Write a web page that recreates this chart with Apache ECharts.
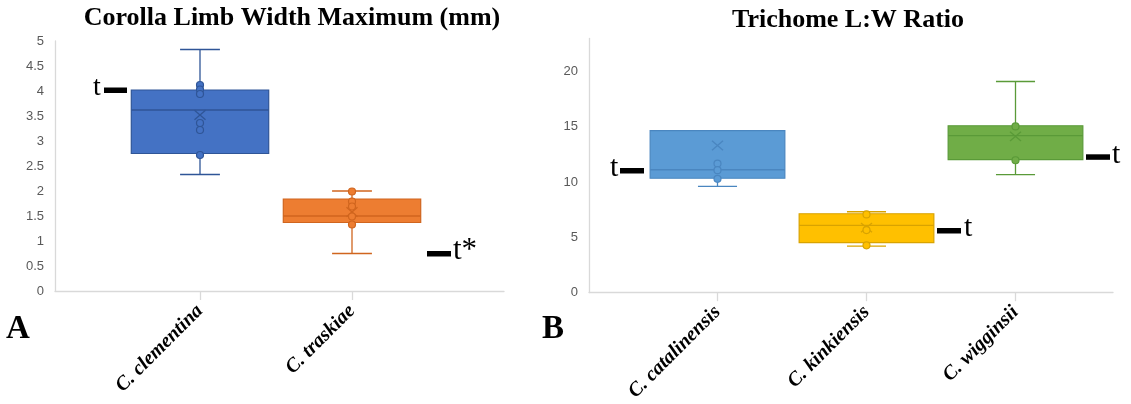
<!DOCTYPE html>
<html>
<head>
<meta charset="utf-8">
<script src="https://cdn.jsdelivr.net/npm/echarts@6/dist/echarts.min.js"></script>
<style>
  html, body { margin: 0; padding: 0; background: #fff; }
  #main { width: 1131px; height: 404px; }
</style>
</head>
<body>
<div id="main"></div>
<script>
// Panel A: corolla limb width (mm)
var catsA = ["C. clementina", "C. traskiae"];
var minA = [2.33, 0.75];
var q1A = [2.75, 1.37];
var medA = [3.62, 1.50];
var q3A = [4.02, 1.84];
var maxA = [4.83, 2.00];
var meanA = [3.52, 1.58];
var ptsA = [
  [4.12, 4.03, 3.94, 3.36, 3.22, 2.72],
  [1.99, 1.79, 1.69, 1.49, 1.33]
];

// Panel B: trichome L:W ratio
var catsB = ["C. catalinensis", "C. kinkiensis", "C. wigginsii"];
var minB = [9.6, 4.18, 10.66];
var q1B = [10.33, 4.49, 12.02];
var medB = [11.1, 6.06, 14.19];
var q3B = [14.65, 7.11, 15.09];
var maxB = [14.65, 7.29, 19.1];
var meanB = [13.3, 5.85, 14.13];
var ptsB = [
  [11.66, 11.06, 10.28],
  [7.05, 5.63, 4.25],
  [15.03, 11.96]
];

var fillA = ["#4472C4", "#ED7D31"];
var lineA = ["#2F5597", "#D0651E"];
var fillB = ["#5B9BD5", "#FFC000", "#70AD47"];
var lineB = ["#4A86C0", "#D9A300", "#5A9A38"];

var AX = "#D9D9D9";
var SERIF = "'Liberation Serif', 'DejaVu Serif', serif";

function boxRows(cats, mn, q1, md, q3, mx, mean) {
  return cats.map(function (c, i) { return [c, mn[i], q1[i], md[i], q3[i], mx[i], mean[i]]; });
}

// box, whiskers with short caps, median and mean "x", Excel style
function boxRender(fills, lines) {
  return function (params, api) {
    var idx = api.value(0);
    var x = api.coord([idx, api.value(3)])[0];
    var band = api.size([1, 0])[0];
    var hw = band * 0.452;
    var cw = hw * 0.29;
    function y(i) { return api.coord([idx, api.value(i)])[1]; }
    var yMin = y(1), yQ1 = y(2), yMed = y(3), yQ3 = y(4), yMax = y(5), yMean = y(6);
    var st = { stroke: lines[idx], lineWidth: 1.3 };
    var kids = [];
    if (yQ3 - yMax > 1) {
      kids.push({ type: "line", shape: { x1: x, y1: yQ3, x2: x, y2: yMax }, style: st });
      kids.push({ type: "line", shape: { x1: x - cw, y1: yMax, x2: x + cw, y2: yMax }, style: st });
    }
    if (yMin - yQ1 > 1) {
      kids.push({ type: "line", shape: { x1: x, y1: yQ1, x2: x, y2: yMin }, style: st });
      kids.push({ type: "line", shape: { x1: x - cw, y1: yMin, x2: x + cw, y2: yMin }, style: st });
    }
    kids.push({
      type: "rect",
      shape: { x: x - hw, y: yQ3, width: hw * 2, height: yQ1 - yQ3 },
      style: { fill: fills[idx], stroke: lines[idx], lineWidth: 1.2 }
    });
    kids.push({ type: "line", shape: { x1: x - hw, y1: yMed, x2: x + hw, y2: yMed }, style: st });
    var m = 5.5;
    kids.push({ type: "line", shape: { x1: x - m, y1: yMean - m * 0.85, x2: x + m, y2: yMean + m * 0.85 }, style: st });
    kids.push({ type: "line", shape: { x1: x - m, y1: yMean + m * 0.85, x2: x + m, y2: yMean - m * 0.85 }, style: st });
    return { type: "group", children: kids };
  };
}

function pointSeries(cats, pts, fills, lines, xi) {
  return cats.map(function (c, i) {
    return {
      type: "scatter",
      xAxisIndex: xi, yAxisIndex: xi,
      symbol: "circle",
      symbolSize: 7,
      z: 5,
      itemStyle: { color: fills[i], borderColor: lines[i], borderWidth: 1.2, opacity: 1 },
      data: pts[i].map(function (v) { return [c, v]; })
    };
  });
}

var frameX = function (g) {
  return {
    gridIndex: g, type: "value", min: 0, max: 1,
    axisLine: { show: true, lineStyle: { color: AX, width: 1.3 } },
    axisTick: { show: false }, axisLabel: { show: false }, splitLine: { show: false }
  };
};
var catX = function (g, cats) {
  return {
    gridIndex: g, type: "category", data: cats,
    axisLine: { show: false },
    axisTick: { show: true, alignWithLabel: true, length: 9, lineStyle: { color: AX, width: 1.3 } },
    axisLabel: {
      rotate: 45, margin: 17, interval: 0,
      fontFamily: SERIF, fontWeight: "bold", fontStyle: "italic",
      fontSize: 20, color: "#000"
    },
    splitLine: { show: false }
  };
};
var hiddenY = function (g, max) {
  return { gridIndex: g, type: "value", min: 0, max: max, show: false, splitLine: { show: false } };
};

var yLabel = { color: "#595959", fontSize: 13, fontFamily: "'Liberation Sans', Arial, sans-serif", margin: 11 };

var chart = echarts.init(document.getElementById("main"), null, { renderer: "canvas" });

function tMark(text, x, y, size) {
  return {
    type: "text", x: x, y: y,
    style: { text: text, fontFamily: SERIF, fontSize: size, fill: "#000", align: "left", verticalAlign: "middle" }
  };
}
function bar(x, y, w) {
  return { type: "rect", shape: { x: x, y: y, width: w, height: 5.5 }, style: { fill: "#000" } };
}

chart.setOption({
  animation: false,
  backgroundColor: "#fff",
  grid: [
    { left: 55, top: 41, width: 449, height: 250 },
    { left: 124, top: 41, width: 304, height: 250 },
    { left: 589, top: 38.5, width: 524, height: 254 },
    { left: 643, top: 38.5, width: 447, height: 254 }
  ],
  xAxis: [frameX(0), catX(1, catsA), frameX(2), catX(3, catsB)],
  yAxis: [
    {
      gridIndex: 0, type: "value", min: 0, max: 5, interval: 0.5,
      axisLine: { show: true, lineStyle: { color: AX, width: 1.3 } },
      axisTick: { show: false }, splitLine: { show: false },
      axisLabel: yLabel
    },
    hiddenY(1, 5),
    {
      gridIndex: 2, type: "value", min: 0, max: 23, interval: 5,
      axisLine: { show: true, lineStyle: { color: AX, width: 1.3 } },
      axisTick: { show: false }, splitLine: { show: false },
      axisLabel: Object.assign({ showMaxLabel: false }, yLabel)
    },
    hiddenY(3, 23)
  ],
  series: [
    {
      type: "custom", xAxisIndex: 1, yAxisIndex: 1,
      renderItem: boxRender(fillA, lineA),
      encode: { x: 0, y: [1, 2, 3, 4, 5, 6] },
      data: boxRows(catsA, minA, q1A, medA, q3A, maxA, meanA)
    },
    {
      type: "custom", xAxisIndex: 3, yAxisIndex: 3,
      renderItem: boxRender(fillB, lineB),
      encode: { x: 0, y: [1, 2, 3, 4, 5, 6] },
      data: boxRows(catsB, minB, q1B, medB, q3B, maxB, meanB)
    }
  ].concat(pointSeries(catsA, ptsA, fillA, lineA, 1), pointSeries(catsB, ptsB, fillB, lineB, 3)),
  graphic: [
    // titles
    { type: "text", x: 292, y: 18, style: { text: "Corolla Limb Width Maximum (mm)", fontFamily: SERIF, fontWeight: "bold", fontSize: 26, fill: "#000", align: "center", verticalAlign: "middle" } },
    { type: "text", x: 848, y: 20, style: { text: "Trichome L:W Ratio", fontFamily: SERIF, fontWeight: "bold", fontSize: 26, fill: "#000", align: "center", verticalAlign: "middle" } },
    // panel letters
    { type: "text", x: 6, y: 329, style: { text: "A", fontFamily: SERIF, fontWeight: "bold", fontSize: 33, fill: "#000", align: "left", verticalAlign: "middle" } },
    { type: "text", x: 542, y: 329, style: { text: "B", fontFamily: SERIF, fontWeight: "bold", fontSize: 33, fill: "#000", align: "left", verticalAlign: "middle" } },
    // t-test annotations
    tMark("t", 93, 87.5, 28), bar(104, 87.5, 23),
    bar(427, 251, 24), tMark("t*", 453, 250.5, 31),
    tMark("t", 610, 168.5, 30), bar(620, 168, 24),
    bar(937, 228, 24), tMark("t", 964, 228, 30),
    bar(1086, 154.3, 24), tMark("t", 1112, 155, 30)
  ]
});
</script>
</body>
</html>
